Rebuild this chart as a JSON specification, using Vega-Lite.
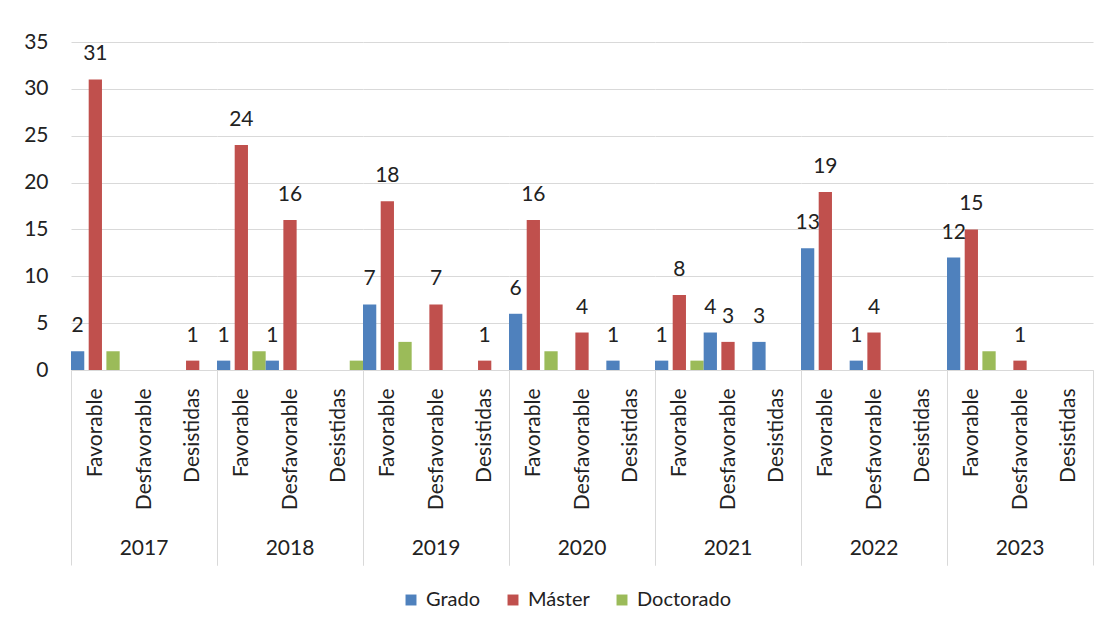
{
  "$schema": "https://vega.github.io/schema/vega-lite/v6.json",
  "background": "white",
  "autosize": {"type": "pad"},
  "padding": {"left": 23, "top": 31, "right": 16, "bottom": 10},
  "data": {
    "values": [
      {"anio": "2017", "resultado": "Favorable", "nivel": "Grado", "n": 2},
      {"anio": "2017", "resultado": "Favorable", "nivel": "Máster", "n": 31},
      {"anio": "2017", "resultado": "Favorable", "nivel": "Doctorado", "n": 2},
      {"anio": "2017", "resultado": "Desistidas", "nivel": "Máster", "n": 1},
      {"anio": "2018", "resultado": "Favorable", "nivel": "Grado", "n": 1},
      {"anio": "2018", "resultado": "Favorable", "nivel": "Máster", "n": 24},
      {"anio": "2018", "resultado": "Favorable", "nivel": "Doctorado", "n": 2},
      {"anio": "2018", "resultado": "Desfavorable", "nivel": "Grado", "n": 1},
      {"anio": "2018", "resultado": "Desfavorable", "nivel": "Máster", "n": 16},
      {"anio": "2018", "resultado": "Desistidas", "nivel": "Doctorado", "n": 1},
      {"anio": "2019", "resultado": "Favorable", "nivel": "Grado", "n": 7},
      {"anio": "2019", "resultado": "Favorable", "nivel": "Máster", "n": 18},
      {"anio": "2019", "resultado": "Favorable", "nivel": "Doctorado", "n": 3},
      {"anio": "2019", "resultado": "Desfavorable", "nivel": "Máster", "n": 7},
      {"anio": "2019", "resultado": "Desistidas", "nivel": "Máster", "n": 1},
      {"anio": "2020", "resultado": "Favorable", "nivel": "Grado", "n": 6},
      {"anio": "2020", "resultado": "Favorable", "nivel": "Máster", "n": 16},
      {"anio": "2020", "resultado": "Favorable", "nivel": "Doctorado", "n": 2},
      {"anio": "2020", "resultado": "Desfavorable", "nivel": "Máster", "n": 4},
      {"anio": "2020", "resultado": "Desistidas", "nivel": "Grado", "n": 1},
      {"anio": "2021", "resultado": "Favorable", "nivel": "Grado", "n": 1},
      {"anio": "2021", "resultado": "Favorable", "nivel": "Máster", "n": 8},
      {"anio": "2021", "resultado": "Favorable", "nivel": "Doctorado", "n": 1},
      {"anio": "2021", "resultado": "Desfavorable", "nivel": "Grado", "n": 4},
      {"anio": "2021", "resultado": "Desfavorable", "nivel": "Máster", "n": 3},
      {"anio": "2021", "resultado": "Desistidas", "nivel": "Grado", "n": 3},
      {"anio": "2022", "resultado": "Favorable", "nivel": "Grado", "n": 13},
      {"anio": "2022", "resultado": "Favorable", "nivel": "Máster", "n": 19},
      {"anio": "2022", "resultado": "Desfavorable", "nivel": "Grado", "n": 1},
      {"anio": "2022", "resultado": "Desfavorable", "nivel": "Máster", "n": 4},
      {"anio": "2023", "resultado": "Favorable", "nivel": "Grado", "n": 12},
      {"anio": "2023", "resultado": "Favorable", "nivel": "Máster", "n": 15},
      {"anio": "2023", "resultado": "Favorable", "nivel": "Doctorado", "n": 2},
      {"anio": "2023", "resultado": "Desfavorable", "nivel": "Máster", "n": 1}
    ]
  },
  "facet": {
    "column": {
      "field": "anio",
      "type": "ordinal",
      "header": {
        "title": null,
        "labelOrient": "bottom",
        "labelFont": "Lato",
        "labelFontSize": 21,
        "labelColor": "#222222",
        "labelBaseline": "middle",
        "labelPadding": -17
      }
    }
  },
  "spacing": 0,
  "bounds": "flush",
  "spec": {
    "width": 146,
    "height": 328,
    "encoding": {
      "x": {
        "field": "resultado",
        "type": "nominal",
        "scale": {"domain": ["Favorable", "Desfavorable", "Desistidas"], "paddingInner": 0, "paddingOuter": 0},
        "axis": {
          "title": null,
          "labelAngle": -90,
          "labelAlign": "right",
          "labelBaseline": "middle",
          "labelPadding": -177,
          "labelFont": "Lato",
          "labelFontSize": 21,
          "labelColor": "#222222",
          "tickBand": "extent",
          "tickSize": 195,
          "tickWidth": 1,
          "tickColor": {"condition": {"test": "datum.value === 'Desistidas' || datum.extra", "value": "#d9d9d9"}, "value": "transparent"},
          "domainColor": "#d9d9d9",
          "domainWidth": 1
        }
      },
      "xOffset": {
        "field": "nivel",
        "type": "nominal",
        "scale": {"domain": ["Grado", "Máster", "Doctorado"], "paddingInner": 0.25, "paddingOuter": 0}
      },
      "y": {
        "field": "n",
        "type": "quantitative",
        "scale": {"domain": [0, 35], "nice": false},
        "axis": {
          "title": null,
          "values": [0, 5, 10, 15, 20, 25, 30, 35],
          "domain": false,
          "ticks": false,
          "labelPadding": 23,
          "labelFont": "Lato",
          "labelFontSize": 21,
          "labelColor": "#222222",
          "gridColor": "#d9d9d9",
          "gridWidth": 1
        }
      }
    },
    "layer": [
      {
        "mark": {"type": "bar"},
        "encoding": {
          "color": {
            "field": "nivel",
            "type": "nominal",
            "scale": {"domain": ["Grado", "Máster", "Doctorado"], "range": ["#4F81BD", "#C0504D", "#9BBB59"]},
            "legend": {
              "title": null,
              "orient": "none",
              "legendX": 330,
              "legendY": 548,
              "direction": "horizontal",
              "labelFont": "Lato",
              "labelFontSize": 20,
              "labelColor": "#222222",
              "symbolType": "square",
              "symbolSize": 120,
              "symbolStrokeWidth": 0,
              "columnPadding": 22,
              "labelOffset": 5
            }
          }
        }
      },
      {
        "transform": [{"filter": "datum.nivel !== 'Doctorado' && datum.n > 0"}],
        "mark": {"type": "text", "align": "center", "baseline": "alphabetic", "dy": -19, "font": "Lato", "fontSize": 21, "color": "#222222"},
        "encoding": {"text": {"field": "n", "type": "quantitative"}}
      }
    ]
  },
  "config": {
    "view": {"stroke": null}
  }
}
